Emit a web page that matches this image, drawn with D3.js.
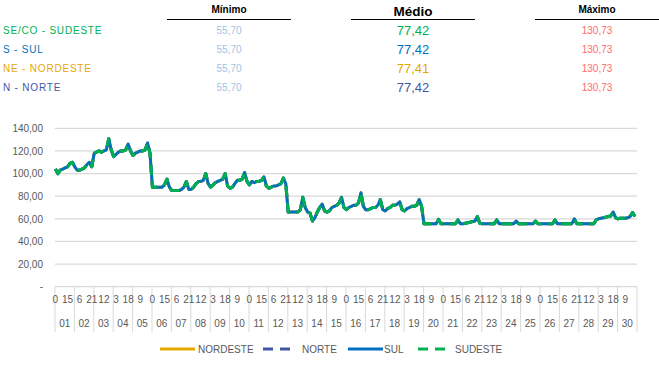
<!DOCTYPE html>
<html>
<head>
<meta charset="utf-8">
<script src="https://cdn.jsdelivr.net/npm/d3@7"></script>
<style>
  body { margin: 0; background: #fff; }
  text { font-family: "Liberation Sans", Arial, sans-serif; }
</style>
</head>
<body>
<div id="chart"></div>
<script>
// cabeçalho (tabela de resumo)
var regioes = ["SE/CO - SUDESTE", "S - SUL", "NE - NORDESTE", "N - NORTE"];
var regiaoCores = ["#00B050", "#0070C0", "#E6A800", "#3F56A6"];
var minimo = [55.70, 55.70, 55.70, 55.70];
var medio = [77.42, 77.42, 77.41, 77.42];
var maximo = [130.73, 130.73, 130.73, 130.73];

// eixo x: dias e horas lidas (a cada 3h)
var dias = ["01","02","03","04","05","06","07","08","09","10","11","12","13","14","15",
            "16","17","18","19","20","21","22","23","24","25","26","27","28","29","30"];
var horas = [0, 3, 6, 9, 12, 15, 18, 21];
var passoRotulo = 15; // um rótulo de hora a cada 15h
var yTicks = [0, 20, 40, 60, 80, 100, 120, 140];

// valores (8 por dia)
var sudeste = [
  104,100,103,104,105,106,109,110,
  106,103,103,104,105,108,110,106,
  118,119,120,119,120,121,130.73,121,
  115,117,119,120,120,121,126,120,
  116,118,119,120,120,121,127,118,
  88,88,88,88,88,90,95,88,
  85,85,85,85,86,88,93,86,
  86,88,91,93,93,94,100,91,
  88,90,92,93,94,95,100,89,
  87,88,91,94,94,95,101,93,
  90,93,92,93,93,94,97,89,
  87,88,89,89,90,91,96,91,
  66,66,66,66,66,68,79,70,
  66,65,58,61,66,70,73,67,
  66,67,70,71,72,74,79,70,
  68,70,71,72,72,74,83,71,
  68,68,69,70,70,72,77,68,
  67,69,70,72,72,73,75,68,
  67,69,70,71,71,72,77,71,
  55.7,55.7,55.7,55.7,55.7,55.7,59.5,55.7,
  55.7,55.7,55.7,55.7,55.7,55.7,59,55.7,
  55.7,56,56.5,57,57.5,58,62,56,
  55.7,55.7,55.7,55.7,55.7,55.7,59,55.7,
  55.7,55.7,55.7,55.7,55.7,55.7,58,55.7,
  55.7,55.7,55.7,55.7,55.7,55.7,58,55.7,
  55.7,55.7,55.7,55.7,55.7,55.7,59,55.7,
  55.7,55.7,55.7,55.7,55.7,55.7,60,55.7,
  55.7,55.7,55.7,55.7,55.7,55.7,55.7,59,
  60,60.5,61,61.5,62,62.5,66,61,
  60,60.5,60.5,60.5,61,62,65.5,62
];
// as quatro séries coincidem no gráfico
var sul = sudeste.slice();
var norte = sudeste.slice();
var nordeste = sudeste.slice();

var series = [
  {nome: "NORDESTE", valores: nordeste, cor: "#E6A800", dash: null},
  {nome: "NORTE", valores: norte, cor: "#3F56A6", dash: "10,7"},
  {nome: "SUL", valores: sul, cor: "#0070C0", dash: null},
  {nome: "SUDESTE", valores: sudeste, cor: "#00B050", dash: "10,7"}
];

var ptBR = d3.formatLocale({decimal: ",", thousands: ".", grouping: [3], currency: ["R$", ""]});
var fmt = ptBR.format(",.2f");

var svg = d3.select("#chart").append("svg")
  .attr("width", 659)
  .attr("height", 384);

// ---- cabeçalho ----
var colunas = [
  {titulo: "Mínimo", cx: 229, x1: 167, x2: 291, size: 10},
  {titulo: "Médio", cx: 413, x1: 351, x2: 475, size: 13.5},
  {titulo: "Máximo", cx: 597, x1: 535, x2: 659, size: 10}
];
colunas.forEach(function (c) {
  svg.append("text").attr("x", c.cx).attr("y", c.size > 11 ? 16 : 13)
    .attr("text-anchor", "middle").attr("font-size", c.size).attr("font-weight", "bold")
    .attr("fill", "#000").text(c.titulo);
  svg.append("line").attr("x1", c.x1).attr("x2", c.x2).attr("y1", 19.5).attr("y2", 19.5)
    .attr("stroke", "#000").attr("stroke-width", 1);
});

var linhaY = d3.scalePoint().domain(d3.range(regioes.length)).range([34, 91]);
regioes.forEach(function (r, i) {
  var y = linhaY(i);
  svg.append("text").attr("x", 3).attr("y", y - 0.5).attr("font-size", 10)
    .attr("letter-spacing", 0.8).attr("fill", regiaoCores[i]).text(r);
  svg.append("text").attr("x", 229).attr("y", y - 0.5).attr("text-anchor", "middle")
    .attr("font-size", 10).attr("fill", "#9DC3E6").text(fmt(minimo[i]));
  svg.append("text").attr("x", 413).attr("y", y + 0.5).attr("text-anchor", "middle")
    .attr("font-size", 13).attr("fill", regiaoCores[i]).text(fmt(medio[i]));
  svg.append("text").attr("x", 597).attr("y", y - 0.5).attr("text-anchor", "middle")
    .attr("font-size", 10).attr("fill", "#FF6B6B").text(fmt(maximo[i]));
});

// ---- gráfico ----
var totalHoras = dias.length * 24;
var x = d3.scaleLinear().domain([0, totalHoras]).range([55, 637]);
var y = d3.scaleLinear().domain([0, 140]).range([286.7, 128.3]);

// grade
svg.append("g").selectAll("line").data(yTicks.filter(function (t) { return t > 0; }))
  .enter().append("line")
  .attr("x1", x(0)).attr("x2", x(totalHoras))
  .attr("y1", function (d) { return y(d); }).attr("y2", function (d) { return y(d); })
  .attr("stroke", "#D9D9D9").attr("stroke-width", 1.2);

var yAxis = svg.append("g").attr("transform", "translate(45,0)")
  .call(d3.axisLeft(y).tickValues(yTicks).tickSize(0).tickPadding(2)
    .tickFormat(function (d) { return d === 0 ? "-   " : fmt(d); }));
yAxis.select(".domain").remove();
yAxis.selectAll("text").attr("font-size", 10).attr("fill", "#595959")
  .style("font-family", "'Liberation Sans', Arial, sans-serif");

// eixo x de duas linhas
var eixoX = svg.append("g");
eixoX.append("line").attr("x1", x(0)).attr("x2", x(totalHoras))
  .attr("y1", y(0)).attr("y2", y(0)).attr("stroke", "#D9D9D9").attr("stroke-width", 1.2);
eixoX.selectAll("line.div").data(d3.range(dias.length + 1)).enter().append("line")
  .attr("class", "div")
  .attr("x1", function (d) { return x(d * 24); }).attr("x2", function (d) { return x(d * 24); })
  .attr("y1", y(0)).attr("y2", 332)
  .attr("stroke", "#D9D9D9").attr("stroke-width", 1);
eixoX.selectAll("text.hora").data(d3.range(0, totalHoras, passoRotulo)).enter().append("text")
  .attr("class", "hora")
  .attr("x", function (d) { return x(d + 0.5); }).attr("y", 303)
  .attr("text-anchor", "middle").attr("font-size", 10).attr("fill", "#595959")
  .text(function (d) { return d % 24; });
eixoX.selectAll("text.dia").data(dias).enter().append("text")
  .attr("class", "dia")
  .attr("x", function (d, i) { return x(i * 24 + 12); }).attr("y", 327)
  .attr("text-anchor", "middle").attr("font-size", 10).attr("fill", "#595959")
  .text(function (d) { return d; });

// linhas
var linha = d3.line()
  .x(function (d, i) { return x(Math.floor(i / horas.length) * 24 + horas[i % horas.length] + 0.5); })
  .y(function (d) { return y(d); });

series.forEach(function (s) {
  svg.append("path").datum(s.valores)
    .attr("d", linha)
    .attr("fill", "none")
    .attr("stroke", s.cor)
    .attr("stroke-width", 3)
    .attr("stroke-linejoin", "round")
    .attr("stroke-dasharray", s.dash);
});

// legenda
var legX = [160, 263, 348, 418];
var legTxt = [198, 302, 384, 455];
series.forEach(function (s, i) {
  svg.append("line").attr("x1", legX[i]).attr("x2", legX[i] + (s.dash ? 30 : 35))
    .attr("y1", 349).attr("y2", 349)
    .attr("stroke", s.cor).attr("stroke-width", 3)
    .attr("stroke-dasharray", s.dash);
  svg.append("text").attr("x", legTxt[i]).attr("y", 352.5).attr("font-size", 10)
    .attr("fill", "#595959").text(s.nome);
});
</script>
</body>
</html>
